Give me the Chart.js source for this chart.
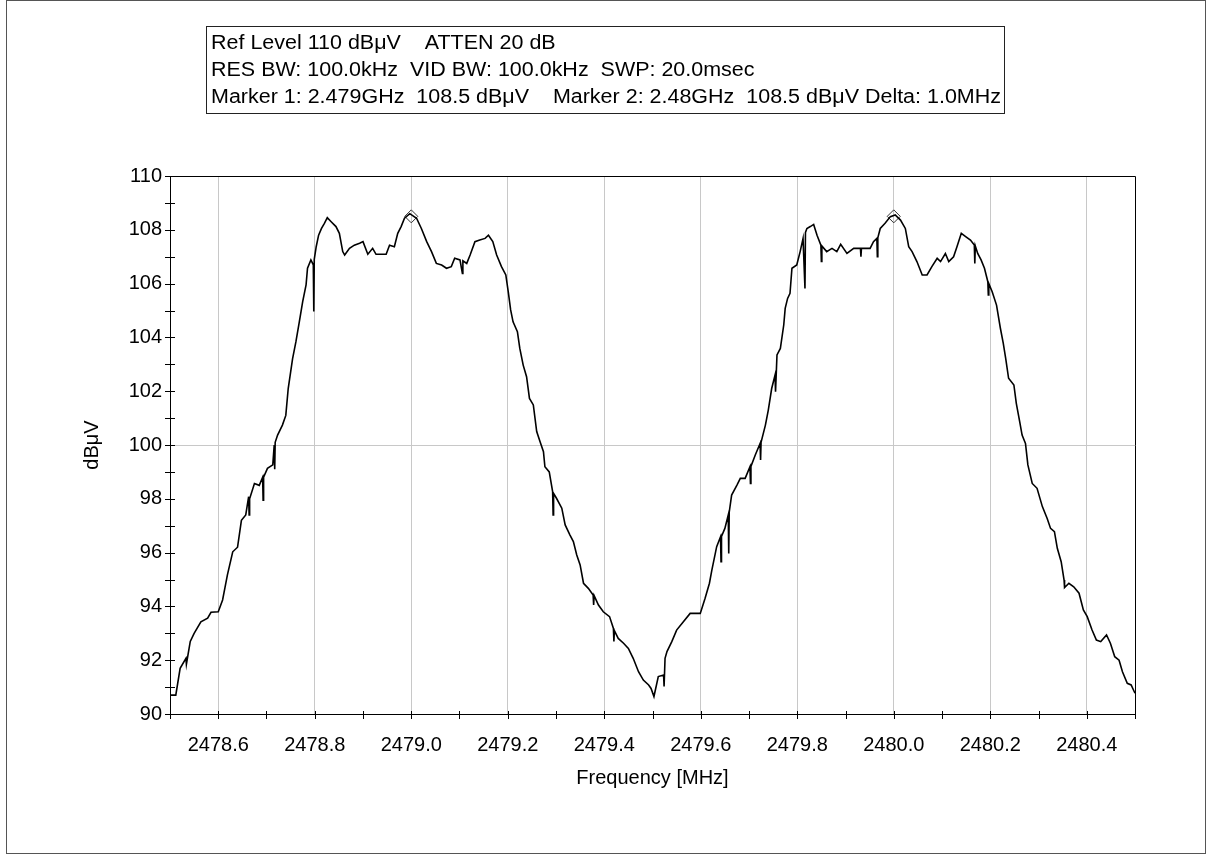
<!DOCTYPE html>
<html>
<head>
<meta charset="utf-8">
<script src="https://cdn.jsdelivr.net/npm/chart.js@4/dist/chart.umd.min.js"></script>
<style>
  html, body { margin: 0; padding: 0; background: #fff; }
  canvas { display: block; }
</style>
</head>
<body>
<canvas id="spectrum" width="1207" height="857"></canvas>
<script>
// --- Data ---
const freqMHz = [
  2478.500, 2478.512, 2478.521, 2478.533, 2478.534, 2478.542, 2478.550, 2478.564, 2478.578, 2478.585,
  2478.600, 2478.609, 2478.619, 2478.630, 2478.640, 2478.648, 2478.657, 2478.663, 2478.664, 2478.665,
  2478.675, 2478.685, 2478.692, 2478.693, 2478.694, 2478.702, 2478.713, 2478.716, 2478.717, 2478.718,
  2478.723, 2478.733, 2478.740, 2478.745, 2478.754, 2478.761, 2478.768, 2478.775, 2478.782, 2478.785,
  2478.792, 2478.797, 2478.798, 2478.799, 2478.803, 2478.808, 2478.814, 2478.820, 2478.826, 2478.834,
  2478.844, 2478.851, 2478.858, 2478.862, 2478.872, 2478.882, 2478.893, 2478.900, 2478.910, 2478.920,
  2478.927, 2478.948, 2478.955, 2478.965, 2478.972, 2478.979, 2478.986, 2478.997,
  2479.011, 2479.021, 2479.032, 2479.042, 2479.052, 2479.063, 2479.073, 2479.083, 2479.090, 2479.101,
  2479.106, 2479.107, 2479.115, 2479.122, 2479.132, 2479.142, 2479.153, 2479.160, 2479.169, 2479.177,
  2479.187, 2479.196, 2479.201, 2479.206, 2479.211, 2479.220, 2479.225, 2479.232, 2479.239, 2479.245,
  2479.253, 2479.260, 2479.267, 2479.274, 2479.277, 2479.286, 2479.293, 2479.294, 2479.295, 2479.301,
  2479.312, 2479.319, 2479.329, 2479.336, 2479.343, 2479.350, 2479.357, 2479.367, 2479.377, 2479.378,
  2479.379, 2479.388, 2479.398, 2479.411, 2479.419, 2479.420, 2479.421, 2479.429, 2479.440, 2479.450,
  2479.460, 2479.471, 2479.481, 2479.492, 2479.497, 2479.503,
  2479.512, 2479.523, 2479.524, 2479.526, 2479.530, 2479.540, 2479.550, 2479.564, 2479.578, 2479.599,
  2479.609, 2479.618, 2479.623, 2479.633, 2479.641, 2479.642, 2479.643, 2479.650, 2479.657, 2479.658,
  2479.659, 2479.664, 2479.675, 2479.682, 2479.692, 2479.702, 2479.703, 2479.704, 2479.713, 2479.723,
  2479.724, 2479.725, 2479.734, 2479.740, 2479.747, 2479.754, 2479.755, 2479.758, 2479.765, 2479.772,
  2479.775, 2479.780, 2479.785, 2479.789, 2479.799, 2479.806, 2479.812, 2479.816, 2479.817, 2479.820,
  2479.827, 2479.834, 2479.841, 2479.849, 2479.850, 2479.851, 2479.861, 2479.872, 2479.882, 2479.890,
  2479.903, 2479.917, 2479.931, 2479.932, 2479.933, 2479.951, 2479.958, 2479.965, 2479.966, 2479.967,
  2479.972, 2479.982, 2479.993,
  2480.003, 2480.014, 2480.024, 2480.031, 2480.038, 2480.048, 2480.059, 2480.069, 2480.079, 2480.090,
  2480.097, 2480.107, 2480.114, 2480.124, 2480.131, 2480.140, 2480.149, 2480.159, 2480.167, 2480.168,
  2480.169, 2480.174, 2480.181, 2480.188, 2480.195, 2480.196, 2480.197, 2480.204, 2480.213, 2480.221,
  2480.227, 2480.232, 2480.238, 2480.249, 2480.254, 2480.261, 2480.266, 2480.273, 2480.278, 2480.287,
  2480.297, 2480.308, 2480.318, 2480.325, 2480.333, 2480.339, 2480.347, 2480.353, 2480.354, 2480.363,
  2480.373, 2480.384, 2480.393, 2480.401, 2480.411, 2480.420, 2480.429, 2480.441, 2480.449, 2480.458,
  2480.467, 2480.474, 2480.484, 2480.492, 2480.500
];

const levelDbuV = [
  90.70, 90.70, 91.70, 92.07, 91.85, 92.70, 93.00, 93.43, 93.56, 93.78,
  93.80, 94.24, 95.17, 96.03, 96.20, 97.20, 97.40, 98.08, 97.40, 98.00,
  98.57, 98.50, 98.80, 97.95, 98.80, 99.13, 99.26, 100.00, 99.10, 100.10,
  100.37, 100.74, 101.10, 102.10, 103.20, 103.84, 104.58, 105.33, 105.95, 106.57,
  106.88, 106.70, 104.96, 106.90, 107.37, 107.80, 108.05, 108.24, 108.45, 108.30,
  108.12, 107.87, 107.19, 107.06, 107.31, 107.43, 107.50, 107.56, 107.09, 107.31,
  107.09, 107.09, 107.43, 107.37, 107.87, 108.12, 108.43, 108.60,
  108.43, 108.05, 107.56, 107.19, 106.75, 106.69, 106.57, 106.63, 106.94, 106.88,
  106.38, 106.85, 106.75, 107.06, 107.56, 107.62, 107.68, 107.80, 107.56, 107.06,
  106.63, 106.32, 105.70, 105.02, 104.58, 104.21, 103.59, 102.97, 102.54, 101.73,
  101.49, 100.50, 100.12, 99.75, 99.19, 99.00, 98.27, 97.40, 98.20, 98.02,
  97.65, 97.03, 96.65, 96.41, 95.91, 95.54, 94.86, 94.67, 94.42, 94.05,
  94.40, 94.05, 93.80, 93.62, 93.18, 92.70, 93.10, 92.81, 92.63, 92.44,
  92.07, 91.57, 91.26, 91.08, 90.95, 90.65,
  91.39, 91.45, 91.02, 92.07, 92.32, 92.69, 93.12, 93.43, 93.74, 93.74,
  94.30, 94.86, 95.35, 96.22, 96.59, 95.66, 96.60, 96.90, 97.40, 95.97,
  97.50, 98.14, 98.51, 98.76, 98.76, 99.19, 98.57, 99.20, 99.63, 100.06,
  99.44, 100.10, 100.74, 101.30, 102.10, 102.60, 101.98, 103.35, 103.59, 104.46,
  105.08, 105.45, 105.64, 106.57, 106.69, 107.19, 107.68, 105.82, 107.90, 108.05,
  108.12, 108.20, 107.80, 107.43, 106.82, 107.40, 107.19, 107.31, 107.19, 107.46,
  107.12, 107.31, 107.31, 107.00, 107.31, 107.31, 107.56, 107.68, 107.00, 107.70,
  108.05, 108.24, 108.49,
  108.55, 108.36, 108.05, 107.37, 107.19, 106.82, 106.32, 106.32, 106.63, 106.94,
  106.82, 107.12, 106.82, 107.00, 107.37, 107.87, 107.75, 107.62, 107.43, 106.75,
  107.40, 107.12, 106.88, 106.57, 106.07, 105.58, 106.00, 105.70, 105.20, 104.34,
  103.78, 103.22, 102.48, 102.23, 101.55, 100.87, 100.37, 100.06, 99.26, 98.57,
  98.39, 97.71, 97.27, 96.90, 96.78, 96.16, 95.66, 94.98, 94.70, 94.86,
  94.73, 94.49, 93.87, 93.62, 93.12, 92.75, 92.69, 92.94, 92.63, 92.13,
  92.00, 91.57, 91.14, 91.08, 90.77
];

const markerFreq  = [2479.0, 2480.0];
const markerLevel = [108.5, 108.5];

const xTickValues = [2478.6, 2478.8, 2479.0, 2479.2, 2479.4, 2479.6, 2479.8, 2480.0, 2480.2, 2480.4];
const xTickLabels = ['2478.6', '2478.8', '2479.0', '2479.2', '2479.4', '2479.6', '2479.8', '2480.0', '2480.2', '2480.4'];
const xTickMarks  = [2478.5, 2478.6, 2478.7, 2478.8, 2478.9, 2479.0, 2479.1, 2479.2, 2479.3, 2479.4, 2479.5,
                     2479.6, 2479.7, 2479.8, 2479.9, 2480.0, 2480.1, 2480.2, 2480.3, 2480.4, 2480.5];
const yTickValues = [90, 92, 94, 96, 98, 100, 102, 104, 106, 108, 110];
const yTickLabels = ['90', '92', '94', '96', '98', '100', '102', '104', '106', '108', '110'];
const yTickMarks  = [90, 91, 92, 93, 94, 95, 96, 97, 98, 99, 100, 101, 102, 103, 104, 105, 106, 107, 108, 109, 110];

const infoLines = [
  'Ref Level 110 dB\u03bcV    ATTEN 20 dB',
  'RES BW: 100.0kHz  VID BW: 100.0kHz  SWP: 20.0msec',
  'Marker 1: 2.479GHz  108.5 dB\u03bcV    Marker 2: 2.48GHz  108.5 dB\u03bcV Delta: 1.0MHz'
];

const FONT = '"Liberation Sans", Arial, sans-serif';
const GRID = '#c8c8c8';

// --- Frame, info box, crossing tick marks ---
const analyzerDecor = {
  id: 'analyzerDecor',
  beforeDraw(chart) {
    const ctx = chart.ctx;
    ctx.save();
    ctx.fillStyle = '#fff';
    ctx.fillRect(0, 0, chart.width, chart.height);
    ctx.restore();
  },
  afterDraw(chart) {
    const ctx = chart.ctx;
    const { left, right, top, bottom } = chart.chartArea;
    const xs = chart.scales.x;
    const ys = chart.scales.y;
    ctx.save();

    // outer window frame
    ctx.strokeStyle = '#555';
    ctx.lineWidth = 1;
    ctx.strokeRect(6.5, 0.5, 1199, 853);

    // info box
    ctx.strokeStyle = '#222';
    ctx.strokeRect(206.5, 26.5, 798, 87);
    ctx.fillStyle = '#000';
    ctx.font = '20px ' + FONT;
    ctx.textBaseline = 'middle';
    ctx.textAlign = 'left';
    // the analyzer font is a bit wider; stretch so the longest line ends near the box edge
    const sx = 790 / ctx.measureText(infoLines[2]).width;
    infoLines.forEach((t, i) => {
      ctx.save();
      ctx.translate(211, 43 + i * 27);
      ctx.scale(sx, 1.05);
      ctx.fillText(t, 0, 0);
      ctx.restore();
    });

    // plot box top + right
    ctx.strokeStyle = '#000';
    ctx.lineWidth = 1;
    ctx.beginPath();
    ctx.moveTo(Math.round(left) + 0.5, Math.round(top) + 0.5);
    ctx.lineTo(Math.round(right) + 0.5, Math.round(top) + 0.5);
    ctx.lineTo(Math.round(right) + 0.5, Math.round(bottom) + 0.5);
    ctx.stroke();

    // tick marks crossing the axes
    ctx.beginPath();
    xTickMarks.forEach(v => {
      const px = Math.round(xs.getPixelForValue(v)) + 0.5;
      ctx.moveTo(px, bottom - 3);
      ctx.lineTo(px, bottom + 5);
    });
    yTickMarks.forEach(v => {
      const py = Math.round(ys.getPixelForValue(v)) + 0.5;
      ctx.moveTo(left - 5, py);
      ctx.lineTo(left + 5, py);
    });
    ctx.stroke();
    ctx.restore();
  }
};

new Chart(document.getElementById('spectrum'), {
  type: 'scatter',
  data: {
    datasets: [
      {
        label: 'Trace',
        data: freqMHz.map((f, i) => ({ x: f, y: levelDbuV[i] })),
        showLine: true,
        borderColor: '#000',
        borderWidth: 1.6,
        pointRadius: 0,
        tension: 0,
        fill: false,
      },
      {
        label: 'Markers',
        data: markerFreq.map((f, i) => ({ x: f, y: markerLevel[i] })),
        showLine: false,
        pointStyle: 'rectRot',
        pointRadius: 6.5,
        backgroundColor: 'rgba(0,0,0,0)',
        borderColor: '#333',
        borderWidth: 1,
      }
    ]
  },
  options: {
    animation: false,
    responsive: false,
    events: [],
    layout: { padding: { left: 0, top: 176, right: 72, bottom: 0 } },
    plugins: { legend: { display: false }, tooltip: { enabled: false } },
    scales: {
      x: {
        type: 'linear',
        min: 2478.5,
        max: 2480.5,
        afterBuildTicks: s => { s.ticks = xTickValues.map(v => ({ value: v })); },
        afterFit: s => { s.height = 143; },
        ticks: {
          callback: (v, i) => xTickLabels[i],
          color: '#000',
          font: { family: FONT, size: 20 },
          padding: 19,
          maxRotation: 0,
          autoSkip: false,
        },
        grid: { color: GRID, lineWidth: 1, drawTicks: false },
        border: { color: '#000', width: 1 },
        title: {
          display: true,
          text: 'Frequency [MHz]',
          color: '#000',
          font: { family: FONT, size: 20 },
          padding: { top: 0, bottom: 67 },
        },
      },
      y: {
        type: 'linear',
        min: 90,
        max: 110,
        afterBuildTicks: s => { s.ticks = yTickValues.map(v => ({ value: v })); },
        afterFit: s => { s.width = 170; },
        ticks: {
          callback: (v, i) => yTickLabels[i],
          color: '#000',
          font: { family: FONT, size: 20 },
          padding: 8,
          autoSkip: false,
        },
        grid: {
          color: c => (c.tick && c.tick.value === 100) ? GRID : 'rgba(0,0,0,0)',
          lineWidth: 1,
          drawTicks: false,
        },
        border: { color: '#000', width: 1 },
        title: {
          display: true,
          text: 'dB\u03bcV',
          color: '#000',
          font: { family: FONT, size: 20 },
          padding: { top: 80, bottom: 0 },
        },
      }
    }
  },
  plugins: [analyzerDecor]
});
</script>
</body>
</html>
